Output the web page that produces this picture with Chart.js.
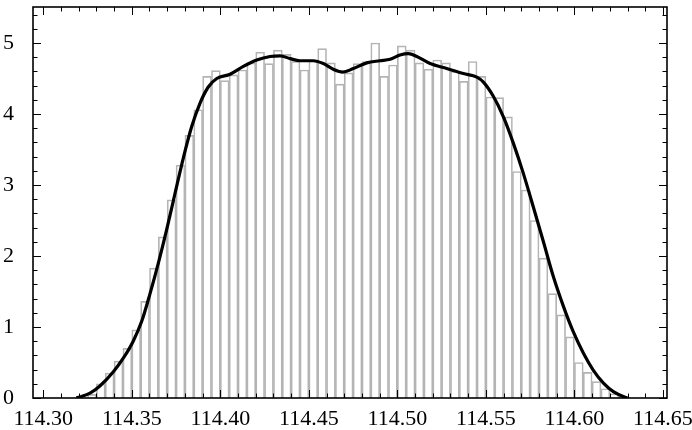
<!DOCTYPE html>
<html>
<head>
<meta charset="utf-8">
<script src="https://cdn.jsdelivr.net/npm/chart.js@4/dist/chart.umd.min.js"></script>
<style>
  html, body { margin: 0; padding: 0; background: #fff; }
  #chart { display: block; }
</style>
</head>
<body>
<canvas id="chart" width="692" height="430"></canvas>
<script>
// histogram bins (left edge of each bin) and bar heights
var binWidth = 0.005;
var binLeft = [
    114.325, 114.330, 114.335, 114.340, 114.345, 114.350, 114.355, 114.360, 114.365, 114.370,
    114.375, 114.380, 114.385, 114.390, 114.395, 114.400, 114.405, 114.410, 114.415, 114.420,
    114.425, 114.430, 114.435, 114.440, 114.445, 114.450, 114.455, 114.460, 114.465, 114.470,
    114.475, 114.480, 114.485, 114.490, 114.495, 114.500, 114.505, 114.510, 114.515, 114.520,
    114.525, 114.530, 114.535, 114.540, 114.545, 114.550, 114.555, 114.560, 114.565, 114.570,
    114.575, 114.580, 114.585, 114.590, 114.595, 114.600, 114.605, 114.610, 114.615, 114.620,
    114.625
];
var binHeight = [
    0.05, 0.20, 0.35, 0.52, 0.70, 0.96, 1.36, 1.83, 2.27, 2.79,
    3.28, 3.70, 4.06, 4.53, 4.61, 4.47, 4.55, 4.62, 4.72, 4.87,
    4.71, 4.90, 4.84, 4.74, 4.62, 4.75, 4.92, 4.72, 4.42, 4.58,
    4.71, 4.74, 5.00, 4.53, 4.69, 4.96, 4.90, 4.72, 4.63, 4.76,
    4.72, 4.60, 4.46, 4.74, 4.53, 4.24, 4.23, 3.96, 3.19, 2.93,
    2.50, 1.97, 1.47, 1.17, 0.86, 0.50, 0.36, 0.23, 0.13, 0.06,
    0.02
];

// smooth density curve
var curveX = [
    114.3187, 114.3207, 114.3264, 114.3320, 114.3396, 114.3452, 114.3508, 114.3556, 114.3603, 114.3650,
    114.3697, 114.3744, 114.3791, 114.3838, 114.3885, 114.3932, 114.3980, 114.4055, 114.4130, 114.4206,
    114.4281, 114.4337, 114.4394, 114.4450, 114.4525, 114.4582, 114.4638, 114.4692, 114.4751, 114.4827,
    114.4902, 114.4959, 114.5015, 114.5062, 114.5110, 114.5185, 114.5279, 114.5373, 114.5449, 114.5486,
    114.5542, 114.5599, 114.5655, 114.5712, 114.5768, 114.5825, 114.5881, 114.5938, 114.5994, 114.6051,
    114.6107, 114.6164, 114.6220, 114.6286, 114.6300
];
var curveY = [
    0.00, 0.015, 0.07, 0.17, 0.37, 0.56, 0.80, 1.08, 1.47, 1.90,
    2.37, 2.88, 3.38, 3.82, 4.15, 4.38, 4.50, 4.56, 4.67, 4.76,
    4.81, 4.82, 4.78, 4.75, 4.75, 4.71, 4.63, 4.59, 4.64, 4.72,
    4.75, 4.77, 4.83, 4.85, 4.81, 4.71, 4.64, 4.57, 4.52, 4.45,
    4.25, 3.96, 3.59, 3.16, 2.69, 2.20, 1.71, 1.29, 0.93, 0.63,
    0.39, 0.21, 0.09, 0.01, 0.00
];

// axis ticks
var xTicks = [114.30, 114.31, 114.32, 114.33, 114.34, 114.35, 114.36, 114.37, 114.38, 114.39,
    114.40, 114.41, 114.42, 114.43, 114.44, 114.45, 114.46, 114.47, 114.48, 114.49,
    114.50, 114.51, 114.52, 114.53, 114.54, 114.55, 114.56, 114.57, 114.58, 114.59,
    114.60, 114.61, 114.62, 114.63, 114.64, 114.65];
var yTicks = [0, 0.2, 0.4, 0.6, 0.8, 1, 1.2, 1.4, 1.6, 1.8, 2, 2.2, 2.4, 2.6, 2.8, 3,
    3.2, 3.4, 3.6, 3.8, 4, 4.2, 4.4, 4.6, 4.8, 5, 5.2, 5.4];

function isMajor(v, per) {
    return Math.abs(v * per - Math.round(v * per)) < 1e-6;
}

var barData = binLeft.map(function (l, i) {
    return { x: l + binWidth / 2, y: binHeight[i] };
});
var curveData = curveX.map(function (x, i) {
    return { x: x, y: curveY[i] };
});

// frame with inward ticks on all four sides
var frameTicks = {
    id: 'frameTicks',
    afterDatasetsDraw: function (chart) {
        var ctx = chart.ctx;
        var a = chart.chartArea;
        var xs = chart.scales.x;
        var ys = chart.scales.y;
        ctx.save();
        ctx.strokeStyle = '#000';
        ctx.lineWidth = 1;
        ctx.beginPath();
        xTicks.forEach(function (v) {
            var px = Math.round(xs.getPixelForValue(v)) + 0.5;
            var len = isMajor(v, 20) ? 8 : 4.5;
            ctx.moveTo(px, a.bottom);
            ctx.lineTo(px, a.bottom - len);
            ctx.moveTo(px, a.top);
            ctx.lineTo(px, a.top + len);
        });
        yTicks.forEach(function (v) {
            var py = Math.round(ys.getPixelForValue(v)) + 0.5;
            var len = isMajor(v, 1) ? 8 : 4.5;
            ctx.moveTo(a.left, py);
            ctx.lineTo(a.left + len, py);
            ctx.moveTo(a.right, py);
            ctx.lineTo(a.right - len, py);
        });
        ctx.stroke();
        ctx.lineWidth = 1.6;
        ctx.strokeRect(Math.round(a.left), Math.round(a.top),
            Math.round(a.right - a.left), Math.round(a.bottom - a.top));
        ctx.restore();
    }
};

var tickFont = { family: "'Liberation Serif', 'DejaVu Serif', serif", size: 22, lineHeight: 1 };

new Chart(document.getElementById('chart'), {
    type: 'bar',
    data: {
        datasets: [{
            type: 'line',
            data: curveData,
            borderColor: '#000',
            borderWidth: 3.2,
            pointRadius: 0,
            cubicInterpolationMode: 'monotone',
            fill: false,
            order: 0
        }, {
            type: 'bar',
            data: barData,
            backgroundColor: 'rgba(255,255,255,0)',
            borderColor: '#b4b4b4',
            borderWidth: 1,
            barPercentage: 1,
            categoryPercentage: 1,
            order: 1
        }]
    },
    options: {
        responsive: false,
        animation: false,
        layout: { padding: { top: 7, right: 25, left: 0, bottom: 0 } },
        plugins: {
            legend: { display: false },
            tooltip: { enabled: false }
        },
        scales: {
            x: {
                type: 'linear',
                offset: false,
                min: 114.2942,
                max: 114.6523,
                grid: { display: false },
                border: { display: false },
                afterBuildTicks: function (scale) {
                    scale.ticks = xTicks.map(function (v) { return { value: v }; });
                },
                afterFit: function (scale) {
                    scale.height = 32;
                    scale.paddingLeft = 0;
                    scale.paddingRight = 0;
                },
                ticks: {
                    autoSkip: false,
                    maxRotation: 0,
                    padding: 2,
                    color: '#000',
                    font: tickFont,
                    callback: function (v) {
                        return isMajor(v, 20) ? Number(v).toFixed(2) : '';
                    }
                }
            },
            y: {
                min: 0,
                max: 5.507,
                grid: { display: false },
                border: { display: false },
                afterBuildTicks: function (scale) {
                    scale.ticks = yTicks.map(function (v) { return { value: v }; });
                },
                afterFit: function (scale) {
                    scale.width = 33;
                    scale.paddingTop = 0;
                    scale.paddingBottom = 0;
                },
                ticks: {
                    autoSkip: false,
                    padding: 11,
                    color: '#000',
                    font: tickFont,
                    callback: function (v) {
                        return isMajor(v, 1) ? String(Math.round(v)) : '';
                    }
                }
            }
        }
    },
    plugins: [frameTicks]
});
</script>
</body>
</html>
